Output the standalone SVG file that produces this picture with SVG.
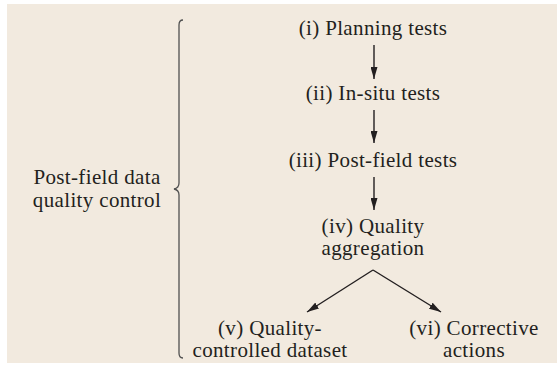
<svg xmlns="http://www.w3.org/2000/svg" width="558" height="373" viewBox="0 0 558 373">
<defs>
<marker id="ah" viewBox="0 0 12 7" refX="12" refY="3.5" markerWidth="12" markerHeight="7" markerUnits="userSpaceOnUse" orient="auto">
<path d="M0,0 L12,3.5 L0,7 Z" fill="#231f20"/>
</marker>
<style>
.t{font-family:"Liberation Serif","Times New Roman",serif;font-size:21px;letter-spacing:0.35px;fill:#231f20;text-anchor:middle}
.c{stroke:#231f20;stroke-width:1.4;fill:none;marker-end:url(#ah)}
.b{stroke:#505050;stroke-width:1.3;fill:none}
</style>
</defs>
<rect x="7" y="4" width="550" height="359" fill="#f2eadf"/>
<g id="label">
<text class="t" x="97" y="184">Post-field data</text>
<text class="t" x="97" y="207">quality control</text>
</g>
<g id="brace">
<path class="b" d="M183,20 Q179,20 179,25 L179,183 Q179,188 174,189 Q179,190 179,195 L179,353 Q179,358 183,358"/>
</g>
<g id="n1"><text class="t" x="373" y="35">(i) Planning tests</text></g>
<g id="n2"><text class="t" x="373" y="100">(ii) In-situ tests</text></g>
<g id="n3"><text class="t" x="373" y="167">(iii) Post-field tests</text></g>
<g id="n4"><text class="t" x="373" y="233">(iv) Quality</text><text class="t" x="373" y="255">aggregation</text></g>
<g id="n5"><text class="t" x="270" y="335">(v) Quality-</text><text class="t" x="270" y="357">controlled dataset</text></g>
<g id="n6"><text class="t" x="474" y="335">(vi) Corrective</text><text class="t" x="474" y="357">actions</text></g>
<g id="connectors">
<path class="c" d="M374,45 L374,79"/>
<path class="c" d="M374,110 L374,143"/>
<path class="c" d="M374,177 L374,210"/>
<path class="c" d="M373,270 L307,312"/>
<path class="c" d="M373,270 L441,312"/>
</g>
</svg>
